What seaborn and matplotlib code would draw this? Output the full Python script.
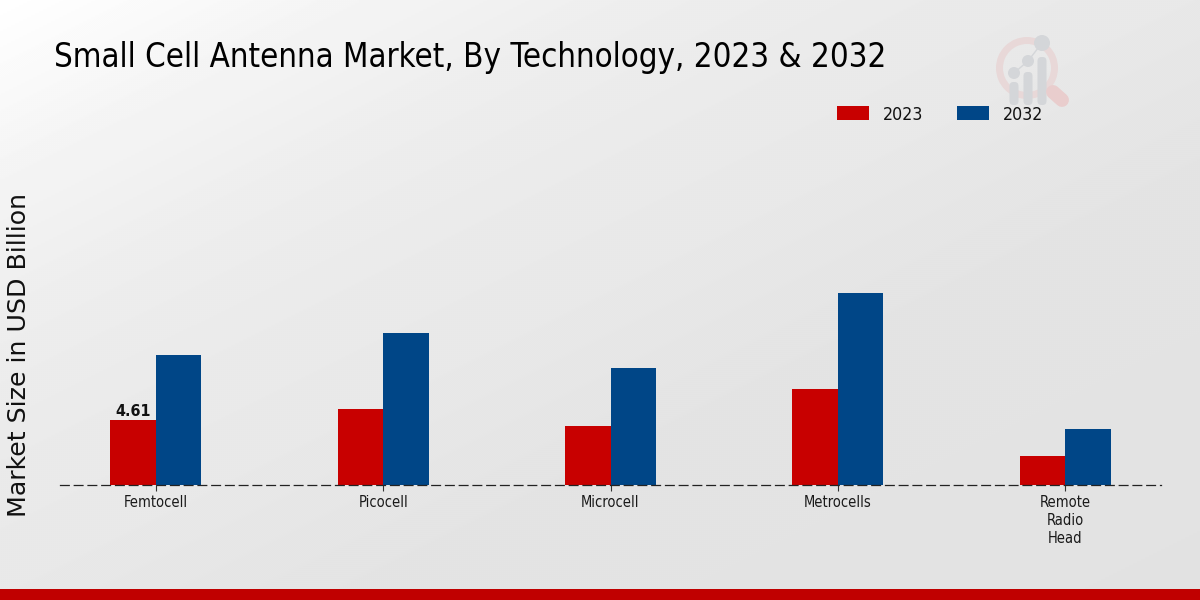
import matplotlib
matplotlib.use("Agg")
import matplotlib.pyplot as plt
import numpy as np
import pandas as pd
import seaborn as sns
from matplotlib.patches import Circle, FancyBboxPatch, Wedge

categories = ["Femtocell", "Picocell", "Microcell", "Metrocells", "Remote\nRadio\nHead"]
values_2023 = [4.61, 5.39, 4.18, 6.81, 2.06]
values_2032 = [9.22, 10.78, 8.30, 13.62, 3.97]

RED = "#c80000"
BLUE = "#004687"

df = pd.DataFrame({
    "technology": categories * 2,
    "year": ["2023"] * 5 + ["2032"] * 5,
    "value": values_2023 + values_2032,
})

sns.set_theme(style="white")
fig = plt.figure(figsize=(12, 6), dpi=100)
COND = dict(family="DejaVu Sans", stretch="condensed")

# page background, diagonal fade from a white corner to light grey
bg = fig.add_axes([0, 0, 1, 1], zorder=0)
yy, xx = np.mgrid[0:1:300j, 0:1:600j]
diag = xx + yy
shade = np.interp(diag, [0, 0.27, 0.52, 0.77, 1.0, 1.27, 1.95], [1, 0.96, 0.933, 0.918, 0.91, 0.894, 0.886])
bg.imshow(shade, cmap="gray", vmin=0, vmax=1, aspect="auto", extent=[0, 1200, 600, 0], interpolation="bilinear")
bg.set_xlim(0, 1200)
bg.set_ylim(600, 0)
bg.axis("off")

# bottom band
bg.fill_between([0, 1200], 589, 600, color="#c00000", lw=0)

# faint logo top right
bg.add_patch(Wedge((1027, 68), 31, 0, 360, width=7, color="#e8d8d8", lw=0))
bg.plot([1053, 1062], [92, 100], color="#e9cdcd", lw=10, solid_capstyle="round")
for x, top, cy, r in [(1014, 82, 73, 6), (1028, 72, 61, 6), (1042, 57, 43, 8)]:
    bg.add_patch(FancyBboxPatch((x - 4.5, top), 9, 105 - top, boxstyle="round,pad=0,rounding_size=4",
                                color="#d4d6d9", lw=0))
    bg.add_patch(Circle((x, cy), r, color="#d4d6d9", lw=0))
bg.plot([1014, 1028, 1042], [73, 61, 43], color="#d4d6d9", lw=1)

ax = fig.add_axes([60.5 / 1200, 115 / 600, 1100 / 1200, 355 / 600], zorder=1)
ax.patch.set_alpha(0)
sns.barplot(data=df, x="technology", y="value", hue="year", palette=[RED, BLUE],
            width=0.4, dodge=True, saturation=1, linewidth=0, ax=ax)
ax.set_xlim(-0.42, 4.42)
ax.set_ylim(0, 355 / 14.1)
ax.set_xlabel("")
ax.set_ylabel("")
ax.set_yticks([])
for side in ["top", "left", "right"]:
    ax.spines[side].set_visible(False)
ax.spines["bottom"].set_linestyle((0, (7, 4)))
ax.spines["bottom"].set_linewidth(0.9)
ax.spines["bottom"].set_color("#222222")
ax.spines["bottom"].set_zorder(5)
ax.tick_params(axis="x", length=4, width=0.8, color="#333333", pad=3, bottom=True)
for lab in ax.get_xticklabels():
    lab.set_fontfamily("DejaVu Sans")
    lab.set_fontstretch("condensed")
    lab.set_fontsize(10.5)
    lab.set_color("#1a1a1a")
    lab.set_linespacing(1.27)

# only the first bar carries a value label
ax.text(-0.1, values_2023[0] + 0.1, "4.61", ha="center", va="bottom", fontsize=11.5,
        fontweight="bold", color="#111111", **COND)

handles, labels = ax.get_legend_handles_labels()
leg = ax.legend(handles, labels, ncol=2, frameon=False, loc="center left",
                bbox_to_anchor=(821 / 1200, 1 - 114.5 / 600), bbox_transform=fig.transFigure,
                handlelength=1.8, handleheight=0.82, columnspacing=1.9, handletextpad=0.78,
                prop={"family": "DejaVu Sans", "stretch": "condensed", "size": 12.8})
for t in leg.get_texts():
    t.set_color("#111111")

fig.text(54 / 1200, 1 - 58 / 600, "Small Cell Antenna Market, By Technology, 2023 & 2032",
         fontsize=23.7, color="#000000", va="center", ha="left", **COND)
fig.text(19 / 1200, 1 - 355 / 600, "Market Size in USD Billion", fontsize=18.2, rotation=90,
         family="DejaVu Sans", color="#111111", va="center", ha="center")

fig.savefig("out.png", dpi=100)
